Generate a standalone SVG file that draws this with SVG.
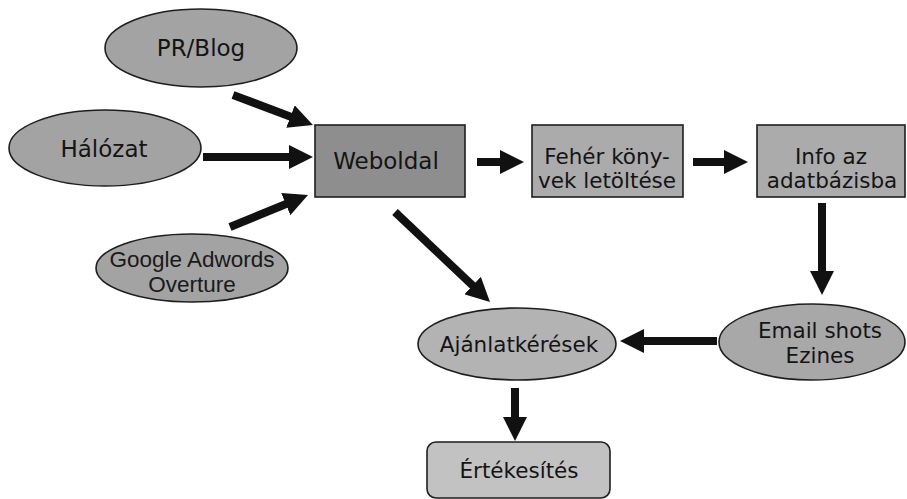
<svg xmlns="http://www.w3.org/2000/svg" width="907" height="499" viewBox="0 0 907 499">
  <defs>
    <style>
      .shape { stroke: #1e1e1e; stroke-width: 1.6; }
      .lbl { font-family: "DejaVu Sans", Verdana, sans-serif; font-size: 21.5px; fill: #141414; text-anchor: middle; }
      .big { font-size: 23px; }
      .lbl2 { font-family: "Liberation Sans", Arial, sans-serif; font-size: 22.5px; fill: #1a1a1a; text-anchor: middle; }
      .conn { stroke: #111; stroke-width: 8; fill: none; marker-end: url(#head); }
    </style>
    <marker id="head" markerUnits="userSpaceOnUse" markerWidth="24" markerHeight="24" refX="1" refY="12" orient="auto">
      <path d="M0,0 L24,12 L0,24 z" fill="#111"/>
    </marker>
  </defs>
  <rect width="907" height="499" fill="#ffffff"/>

  <!-- connectors -->
  <g id="connectors">
    <line class="conn" x1="233" y1="95" x2="291.4" y2="116.9"/>
    <line class="conn" x1="203" y1="157" x2="290" y2="157"/>
    <line class="conn" x1="230" y1="227" x2="286.7" y2="203.7"/>
    <line class="conn" x1="477" y1="162" x2="501" y2="162"/>
    <line class="conn" x1="693" y1="162" x2="725" y2="162"/>
    <line class="conn" x1="822" y1="203" x2="822" y2="272"/>
    <line class="conn" x1="717" y1="341" x2="643" y2="341"/>
    <line class="conn" x1="395" y1="212" x2="473.3" y2="286.2"/>
    <line class="conn" x1="515" y1="388" x2="515" y2="418"/>
  </g>

  <!-- nodes -->
  <g id="pr-blog">
    <ellipse class="shape" cx="201" cy="48" rx="96" ry="39" fill="#a3a3a3"/>
    <text class="lbl big" x="201" y="56">PR/Blog</text>
  </g>
  <g id="halozat">
    <ellipse class="shape" cx="105" cy="148" rx="96" ry="38" fill="#a3a3a3"/>
    <text class="lbl big" x="104" y="157">Hálózat</text>
  </g>
  <g id="google">
    <ellipse class="shape" cx="192" cy="268" rx="96" ry="34" fill="#a3a3a3"/>
    <text class="lbl2" x="192" y="267">Google Adwords</text>
    <text class="lbl2" x="192" y="292">Overture</text>
  </g>
  <g id="weboldal">
    <rect class="shape" x="315" y="125" width="150" height="72" fill="#8e8e8e"/>
    <text class="lbl big" x="386" y="169">Weboldal</text>
  </g>
  <g id="feher-konyvek">
    <rect class="shape" x="532" y="125" width="151" height="72" fill="#ababab"/>
    <text class="lbl" x="607" y="164">Fehér köny-</text>
    <text class="lbl" x="607" y="188">vek letöltése</text>
  </g>
  <g id="info">
    <rect class="shape" x="757" y="125" width="148" height="72" fill="#ababab"/>
    <text class="lbl" x="831" y="164">Info az</text>
    <text class="lbl" x="832" y="188">adatbázisba</text>
  </g>
  <g id="email">
    <ellipse class="shape" cx="812" cy="342" rx="93" ry="38" fill="#a8a8a8"/>
    <text class="lbl" x="820" y="338">Email shots</text>
    <text class="lbl" x="820" y="363">Ezines</text>
  </g>
  <g id="ajanlatkeresek">
    <ellipse class="shape" cx="517" cy="344" rx="99" ry="36" fill="#b3b3b3"/>
    <text class="lbl" x="519" y="352">Ajánlatkérések</text>
  </g>
  <g id="ertekesites">
    <rect class="shape" x="427" y="442" width="183" height="56" rx="9" ry="9" fill="#c2c2c2"/>
    <text class="lbl" x="519" y="478">Értékesítés</text>
  </g>
</svg>
